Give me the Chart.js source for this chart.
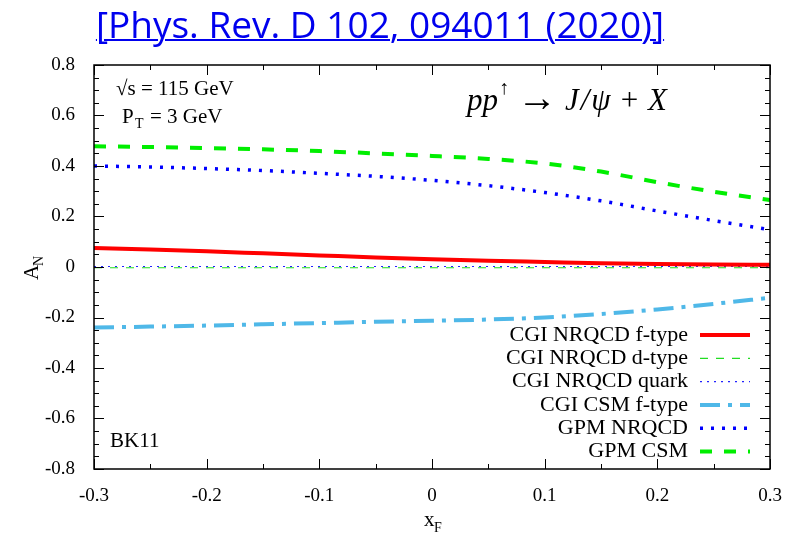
<!DOCTYPE html>
<html>
<head>
<meta charset="utf-8">
<script src="https://cdn.jsdelivr.net/npm/chart.js@4"></script>
<style>
  html, body { margin: 0; padding: 0; background: #fff; }
  #wrap { position: relative; width: 795px; height: 542px; }
  #ref {
    position: absolute; left: 0; top: -2px; width: 760px; text-align: center;
    font-family: "Liberation Sans Narrow", "Open Sans", sans-serif; font-size: 37px;
    color: #0000ee; text-decoration: underline; text-decoration-thickness: 2px; z-index: 2;
  }
  canvas { position: absolute; left: 0; top: 0; }
</style>
</head>
<body>
<div id="wrap">
  <div id="ref">[Phys. Rev. D 102, 094011 (2020)]</div>
  <canvas id="chart" width="795" height="542"></canvas>
</div>
<script>
// x_F grid
const xF = [-0.3, -0.25, -0.2, -0.15, -0.1, -0.05, 0, 0.05, 0.1, 0.15, 0.2, 0.25, 0.3];

const cgiNrqcdF   = [0.075, 0.069, 0.062, 0.054, 0.046, 0.038, 0.031, 0.025, 0.020, 0.015, 0.012, 0.010, 0.009];
const cgiNrqcdD   = [-0.003, -0.003, -0.003, -0.003, -0.003, -0.003, -0.003, -0.003, -0.003, -0.003, -0.003, -0.003, -0.003];
const cgiNrqcdQ   = [0.002, 0.002, 0.002, 0.002, 0.002, 0.002, 0.002, 0.002, 0.002, 0.002, 0.002, 0.002, 0.002];
const cgiCsmF     = [-0.240, -0.236, -0.232, -0.227, -0.222, -0.217, -0.213, -0.208, -0.200, -0.186, -0.168, -0.146, -0.122];
const gpmNrqcd    = [0.400, 0.396, 0.390, 0.382, 0.371, 0.359, 0.343, 0.322, 0.295, 0.262, 0.222, 0.184, 0.148];
const gpmCsm      = [0.478, 0.475, 0.471, 0.466, 0.459, 0.450, 0.440, 0.428, 0.410, 0.378, 0.336, 0.298, 0.265];

const xTicks = [-0.3, -0.2, -0.1, 0, 0.1, 0.2, 0.3];
const yTicks = [-0.8, -0.6, -0.4, -0.2, 0, 0.2, 0.4, 0.6, 0.8];

const serif = '"Liberation Serif", "DejaVu Serif", serif';

function pts(ys) {
    return xF.map((x, i) => ({ x: x, y: ys[i] }));
}

const datasets = [
    { label: 'CGI NRQCD f-type', data: pts(cgiNrqcdF), borderColor: '#ff0000', borderWidth: 4, borderDash: [] },
    { label: 'CGI NRQCD d-type', data: pts(cgiNrqcdD), borderColor: '#22dd22', borderWidth: 1.2, borderDash: [8, 8] },
    { label: 'CGI NRQCD quark', data: pts(cgiNrqcdQ), borderColor: '#2222ff', borderWidth: 1.2, borderDash: [2, 5] },
    { label: 'CGI CSM f-type', data: pts(cgiCsmF), borderColor: '#4fb8e8', borderWidth: 4, borderDash: [20, 8, 4, 8] },
    { label: 'GPM NRQCD', data: pts(gpmNrqcd), borderColor: '#0000ff', borderWidth: 3.5, borderDash: [3, 8] },
    { label: 'GPM CSM', data: pts(gpmCsm), borderColor: '#00ee00', borderWidth: 4, borderDash: [12, 12] }
].map(d => Object.assign(d, { pointRadius: 0, tension: 0.4, fill: false, cubicInterpolationMode: 'monotone' }));

const decorations = {
    id: 'decorations',
    afterDraw(chart) {
        const ctx = chart.ctx;
        const a = chart.chartArea;
        const xs = chart.scales.x, ys = chart.scales.y;
        ctx.save();
        ctx.strokeStyle = '#000';
        ctx.lineWidth = 1.5;
        ctx.strokeRect(a.left, a.top, a.right - a.left, a.bottom - a.top);

        // inward ticks on all sides
        ctx.lineWidth = 1;
        for (let v = -0.3; v <= 0.3001; v += 0.05) {
            const px = Math.round(xs.getPixelForValue(v)) + 0.5;
            const major = Math.abs(Math.round(v * 10) - v * 10) < 1e-6;
            const len = major ? 10 : 5;
            ctx.beginPath();
            ctx.moveTo(px, a.bottom); ctx.lineTo(px, a.bottom - len);
            ctx.moveTo(px, a.top); ctx.lineTo(px, a.top + len);
            ctx.stroke();
        }
        for (let v = -0.8; v <= 0.8001; v += 0.05) {
            const py = Math.round(ys.getPixelForValue(v)) + 0.5;
            const major = Math.abs(Math.round(v * 5) - v * 5) < 1e-6;
            const len = major ? 10 : 5;
            ctx.beginPath();
            ctx.moveTo(a.left, py); ctx.lineTo(a.left + len, py);
            ctx.moveTo(a.right, py); ctx.lineTo(a.right - len, py);
            ctx.stroke();
        }

        // legend inside plot
        ctx.font = '22px ' + serif;
        ctx.textAlign = 'right';
        ctx.textBaseline = 'middle';
        chart.data.datasets.forEach((d, i) => {
            const y = 335 + i * 23.3;
            ctx.fillStyle = '#000';
            ctx.fillText(d.label, 688, y);
            ctx.strokeStyle = d.borderColor;
            ctx.lineWidth = d.borderWidth;
            ctx.setLineDash(d.borderDash);
            ctx.beginPath();
            ctx.moveTo(700, y); ctx.lineTo(750, y);
            ctx.stroke();
        });
        ctx.setLineDash([]);

        // annotations
        ctx.fillStyle = '#000';
        ctx.textAlign = 'left';
        ctx.textBaseline = 'alphabetic';
        ctx.font = '21px ' + serif;
        ctx.fillText('\u221As = 115 GeV', 116, 95);
        ctx.fillText('P', 122, 123);
        ctx.font = '14px ' + serif;
        ctx.fillText('T', 135, 128);
        ctx.font = '21px ' + serif;
        ctx.fillText('= 3 GeV', 150, 123);
        ctx.fillText('BK11', 110, 447);

        // process label
        ctx.font = 'italic 31px ' + serif;
        let x = 467;
        ctx.fillText('pp', x, 110);
        x += ctx.measureText('pp').width + 1;
        ctx.font = '20px ' + serif;
        ctx.fillText('\u2191', x, 94);
        x += ctx.measureText('\u2191').width + 8;
        ctx.font = '40px ' + serif;
        ctx.fillText('\u2192', x, 111);
        x += ctx.measureText('\u2192').width + 8;
        ctx.font = 'italic 31px ' + serif;
        ctx.fillText('J', x, 110);
        x += ctx.measureText('J').width + 2;
        ctx.fillText('/', x, 110);
        x += ctx.measureText('/').width + 2;
        ctx.fillText('\u03C8', x, 110);
        x += ctx.measureText('\u03C8').width + 10;
        ctx.font = '31px ' + serif;
        ctx.fillText('+', x, 110);
        x += ctx.measureText('+').width + 10;
        ctx.font = 'italic 31px ' + serif;
        ctx.fillText('X', x, 110);

        // axis titles
        ctx.font = '21px ' + serif;
        ctx.fillText('x', 424, 526);
        ctx.font = '14px ' + serif;
        ctx.fillText('F', 434, 532);
        ctx.save();
        ctx.translate(38, 280);
        ctx.rotate(-Math.PI / 2);
        ctx.font = '21px ' + serif;
        ctx.fillText('A', 0, 0);
        ctx.font = '14px ' + serif;
        ctx.fillText('N', 14, 5);
        ctx.restore();
        ctx.restore();
    }
};

new Chart(document.getElementById('chart').getContext('2d'), {
    type: 'line',
    data: { datasets: datasets },
    options: {
        responsive: false,
        animation: false,
        layout: { padding: { left: 0, top: 65, right: 25, bottom: 0 } },
        plugins: { legend: { display: false }, tooltip: { enabled: false } },
        scales: {
            x: {
                type: 'linear', min: -0.3, max: 0.3,
                afterFit: s => { s.height = 73; },
                afterBuildTicks: s => { s.ticks = xTicks.map(v => ({ value: v })); },
                grid: { display: false },
                border: { display: false },
                ticks: {
                    color: '#000', font: { family: serif, size: 19 }, padding: 8,
                    callback: v => v === 0 ? '0' : v.toFixed(1)
                }
            },
            y: {
                type: 'linear', min: -0.8, max: 0.8,
                afterFit: s => { s.width = 94; },
                afterBuildTicks: s => { s.ticks = yTicks.map(v => ({ value: v })); },
                grid: { display: false },
                border: { display: false },
                ticks: {
                    color: '#000', font: { family: serif, size: 19 }, padding: 11,
                    callback: v => Math.abs(v) < 1e-9 ? '0' : v.toFixed(1)
                }
            }
        }
    },
    plugins: [decorations]
});
</script>
</body>
</html>
